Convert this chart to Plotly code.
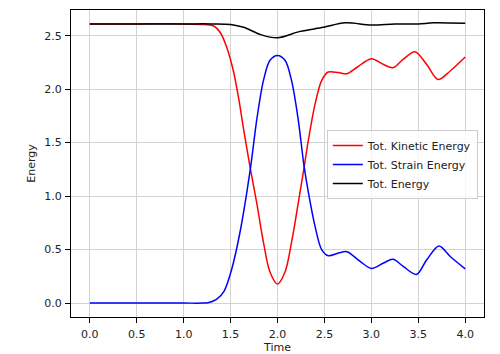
import plotly.graph_objects as go

# Sampled energy histories over time
time_kin = [0.0, 0.5, 1.0, 1.18, 1.32, 1.39, 1.46, 1.53, 1.585, 1.64, 1.71, 1.78, 1.85,
            1.92, 2.0, 2.08, 2.15, 2.22, 2.28, 2.33, 2.40, 2.47, 2.54, 2.65, 2.74, 2.84,
            3.0, 3.13, 3.23, 3.34, 3.465, 3.59, 3.71, 3.84, 4.0]
kinetic = [2.61, 2.61, 2.61, 2.605, 2.59, 2.53, 2.39, 2.17, 1.92, 1.62, 1.26, 0.93, 0.57,
           0.29, 0.178, 0.29, 0.57, 0.93, 1.25, 1.53, 1.86, 2.08, 2.16, 2.155, 2.145, 2.20,
           2.285, 2.23, 2.20, 2.28, 2.35, 2.23, 2.09, 2.17, 2.30]

time_str = [0.0, 0.5, 1.0, 1.2, 1.26, 1.35, 1.43, 1.51, 1.60, 1.71, 1.78, 1.85, 1.92, 2.0,
            2.08, 2.15, 2.22, 2.28, 2.33, 2.40, 2.47, 2.54, 2.65, 2.74, 2.88, 3.0, 3.13,
            3.23, 3.34, 3.48, 3.59, 3.72, 3.84, 4.0]
strain = [0.0, 0.0, 0.0, 0.0, 0.004, 0.035, 0.11, 0.31, 0.66, 1.25, 1.72, 2.08, 2.27, 2.315,
          2.27, 2.08, 1.72, 1.30, 1.03, 0.717, 0.50, 0.443, 0.468, 0.48, 0.39, 0.324, 0.375,
          0.41, 0.343, 0.268, 0.405, 0.534, 0.436, 0.32]

time_tot = [0.0, 0.5, 1.0, 1.3, 1.5, 1.64, 1.82, 2.0, 2.24, 2.49, 2.72, 3.0, 3.25,
            3.5, 3.66, 4.0]
total = [2.61, 2.61, 2.61, 2.61, 2.605, 2.578, 2.51, 2.48, 2.54, 2.578, 2.62, 2.60, 2.61,
         2.61, 2.62, 2.615]

x_ticks = [0.0, 0.5, 1.0, 1.5, 2.0, 2.5, 3.0, 3.5, 4.0]
y_ticks = [0.0, 0.5, 1.0, 1.5, 2.0, 2.5]

FONT = "DejaVu Sans"
TXT = "#222222"

fig = go.Figure()
series = [
    ("Tot. Kinetic Energy", time_kin, kinetic, "#ff0000"),
    ("Tot. Strain Energy", time_str, strain, "#0000ff"),
    ("Tot. Energy", time_tot, total, "#000000"),
]
for name, t, e, color in series:
    fig.add_trace(go.Scatter(
        x=t, y=e, mode="lines", name=name,
        line=dict(color=color, width=1.5, shape="spline", smoothing=0.9),
    ))

axis_common = dict(
    showline=True, linecolor="#000000", linewidth=1, mirror=True,
    ticks="outside", ticklen=5, tickwidth=1, tickcolor="#000000",
    showgrid=True, gridcolor="#d3d3d3", gridwidth=1,
    zeroline=False, tickfont=dict(family=FONT, size=11, color=TXT),
    tickformat=".1f", automargin=False,
)

fig.update_layout(
    width=500, height=354,
    margin=dict(l=71, r=16, t=10, b=37),
    paper_bgcolor="white", plot_bgcolor="white",
    font=dict(family=FONT, size=11, color=TXT),
    xaxis=dict(range=[-0.2, 4.2], tickvals=x_ticks, ticklabelstandoff=2,
               title=dict(text="Time", font=dict(family=FONT, size=11), standoff=2),
               **axis_common),
    yaxis=dict(range=[-0.13, 2.74], tickvals=y_ticks, ticklabelstandoff=1,
               title=dict(text="Energy", font=dict(family=FONT, size=11), standoff=6),
               **axis_common),
    legend=dict(
        x=0.985, y=0.497, xanchor="right", yanchor="middle",
        bgcolor="rgba(255,255,255,0.8)", bordercolor="#cccccc", borderwidth=1,
        font=dict(family=FONT, size=11, color=TXT),
        tracegroupgap=0, itemwidth=30,
    ),
    showlegend=True,
)

fig.write_html("out.html")
